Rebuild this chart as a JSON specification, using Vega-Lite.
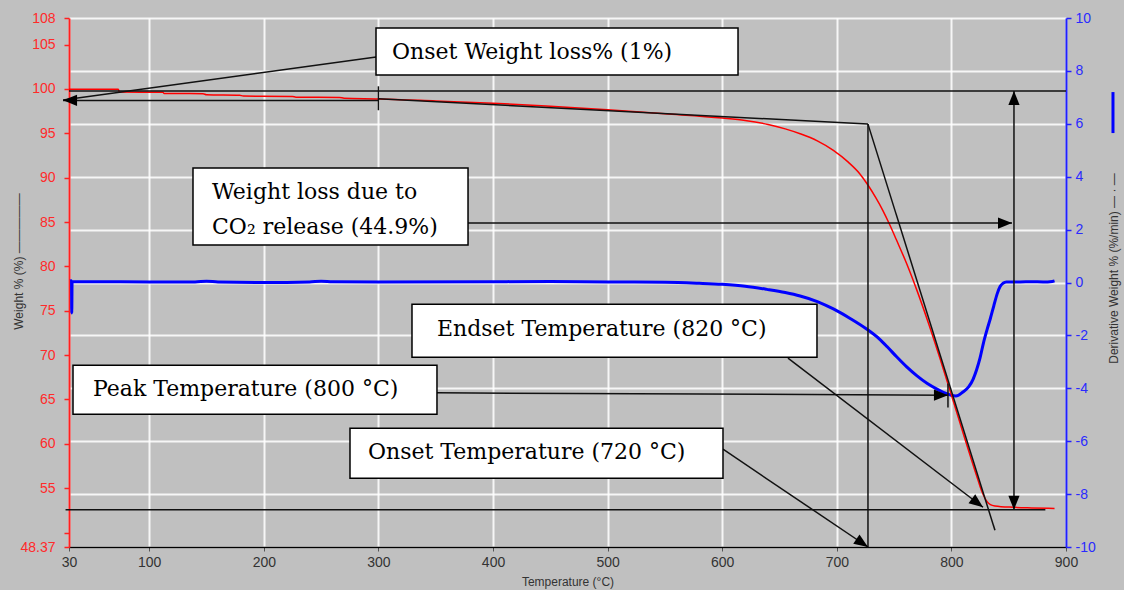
{
  "$schema": "https://vega.github.io/schema/vega-lite/v6.json",
  "width": 997,
  "height": 529,
  "autosize": "none",
  "padding": {"left": 69, "top": 18, "right": 58, "bottom": 43},
  "background": "#c0c0c0",
  "config": {
    "view": {"stroke": null},
    "axis": {"grid": false, "labelFont": "Liberation Sans", "titleFont": "Liberation Sans", "labelFontSize": 14, "titleFontSize": 12, "titleFontWeight": "normal"}
  },
  "datasets": {
    "tga": [
      {"T": 30, "W": 99.96}, {"T": 73, "W": 99.96}, {"T": 74, "W": 99.65}, {"T": 112, "W": 99.62}, {"T": 113, "W": 99.5},
      {"T": 147, "W": 99.46}, {"T": 150, "W": 99.35}, {"T": 179, "W": 99.3}, {"T": 182, "W": 99.2}, {"T": 225, "W": 99.15},
      {"T": 228, "W": 99.08}, {"T": 266, "W": 99.05}, {"T": 270, "W": 98.95}, {"T": 300, "W": 98.88}, {"T": 350, "W": 98.65},
      {"T": 400, "W": 98.4}, {"T": 450, "W": 98.05}, {"T": 500, "W": 97.65}, {"T": 550, "W": 97.2}, {"T": 600, "W": 96.72},
      {"T": 620, "W": 96.45}, {"T": 640, "W": 96.0}, {"T": 655, "W": 95.5}, {"T": 668, "W": 94.95}, {"T": 683, "W": 94.15},
      {"T": 697, "W": 93.08}, {"T": 710, "W": 91.75}, {"T": 720, "W": 90.45}, {"T": 727, "W": 89.2}, {"T": 734, "W": 87.75},
      {"T": 740, "W": 86.35}, {"T": 746, "W": 84.75}, {"T": 752, "W": 83.0}, {"T": 761, "W": 80.3}, {"T": 770, "W": 77.27},
      {"T": 780, "W": 73.6}, {"T": 790, "W": 69.65}, {"T": 800, "W": 65.5}, {"T": 810, "W": 61.3}, {"T": 818, "W": 58.0},
      {"T": 822, "W": 56.4}, {"T": 825, "W": 55.2}, {"T": 828, "W": 54.2}, {"T": 831, "W": 53.5}, {"T": 834, "W": 53.15},
      {"T": 838, "W": 53.0}, {"T": 854, "W": 52.85}, {"T": 870, "W": 52.78}, {"T": 890, "W": 52.72}
    ],
    "dtg": [
      {"i": 1, "T": 31, "D": 0.06}, {"i": 2, "T": 32.2, "D": 0.07}, {"i": 3, "T": 32.4, "D": -1.15}, {"i": 4, "T": 32.7, "D": 0.03},
      {"i": 5, "T": 50, "D": 0.03}, {"i": 6, "T": 100, "D": 0.02}, {"i": 7, "T": 140, "D": 0.02}, {"i": 8, "T": 150, "D": 0.05},
      {"i": 9, "T": 160, "D": 0.02}, {"i": 10, "T": 200, "D": 0.0}, {"i": 11, "T": 240, "D": 0.02}, {"i": 12, "T": 250, "D": 0.05},
      {"i": 13, "T": 260, "D": 0.03}, {"i": 14, "T": 300, "D": 0.02}, {"i": 15, "T": 400, "D": 0.03}, {"i": 16, "T": 450, "D": 0.04},
      {"i": 17, "T": 500, "D": 0.02}, {"i": 18, "T": 550, "D": 0.01}, {"i": 19, "T": 580, "D": -0.03}, {"i": 20, "T": 600, "D": -0.07},
      {"i": 21, "T": 620, "D": -0.14}, {"i": 22, "T": 639, "D": -0.26}, {"i": 23, "T": 655, "D": -0.38}, {"i": 24, "T": 668, "D": -0.51},
      {"i": 25, "T": 683, "D": -0.72}, {"i": 26, "T": 697, "D": -1.0}, {"i": 27, "T": 712, "D": -1.37}, {"i": 28, "T": 726, "D": -1.76},
      {"i": 29, "T": 737, "D": -2.13}, {"i": 30, "T": 744, "D": -2.43}, {"i": 31, "T": 752, "D": -2.8}, {"i": 32, "T": 761, "D": -3.19},
      {"i": 33, "T": 770, "D": -3.53}, {"i": 34, "T": 779, "D": -3.82}, {"i": 35, "T": 787, "D": -4.02}, {"i": 36, "T": 793, "D": -4.15},
      {"i": 37, "T": 799, "D": -4.25}, {"i": 38, "T": 804, "D": -4.29}, {"i": 39, "T": 810, "D": -4.14}, {"i": 40, "T": 815, "D": -3.95},
      {"i": 41, "T": 819, "D": -3.65}, {"i": 42, "T": 822, "D": -3.3}, {"i": 43, "T": 825, "D": -2.85}, {"i": 44, "T": 828, "D": -2.28},
      {"i": 45, "T": 831, "D": -1.8}, {"i": 46, "T": 834, "D": -1.36}, {"i": 47, "T": 837, "D": -0.88}, {"i": 48, "T": 840, "D": -0.42},
      {"i": 49, "T": 842.5, "D": -0.15}, {"i": 50, "T": 845, "D": -0.03}, {"i": 51, "T": 848, "D": 0.02}, {"i": 52, "T": 860, "D": 0.02},
      {"i": 53, "T": 870, "D": 0.03}, {"i": 54, "T": 880, "D": 0.02}, {"i": 55, "T": 888, "D": 0.04}, {"i": 56, "T": 890, "D": 0.06}
    ],
    "lines": [
      {"T": 30, "W": 99.77, "T2": 900, "W2": 99.77},
      {"T": 27, "W": 52.58, "T2": 882, "W2": 52.58},
      {"T": 300, "W": 98.7, "T2": 24.8, "W2": 98.7},
      {"T": 298, "W": 103.6, "T2": 24.8, "W2": 98.75},
      {"T": 300, "W": 100.3, "T2": 300, "W2": 97.6},
      {"T": 300, "W": 98.9, "T2": 727.2, "W2": 96.04},
      {"T": 727.2, "W": 96.04, "T2": 838, "W2": 50.25},
      {"T": 727.2, "W": 96.04, "T2": 727.2, "W2": 48.37},
      {"T": 854.6, "W": 99.77, "T2": 854.6, "W2": 52.58},
      {"T": 378.2, "W": 84.88, "T2": 852.9, "W2": 84.88},
      {"T": 351.1, "W": 65.75, "T2": 797, "W2": 65.48},
      {"T": 797, "W": 66.8, "T2": 797, "W2": 64.1},
      {"T": 657.4, "W": 69.65, "T2": 827.6, "W2": 52.85},
      {"T": 600.7, "W": 59.39, "T2": 727.2, "W2": 48.37}
    ],
    "heads": [
      {"T": 24.8, "W": 98.72, "dir": "left"},
      {"T": 854.6, "W": 99.77, "dir": "up"},
      {"T": 854.6, "W": 52.58, "dir": "down"},
      {"T": 852.9, "W": 84.88, "dir": "right"},
      {"T": 797, "W": 65.48, "dir": "right"},
      {"T": 827.6, "W": 52.85, "dir": "endset"},
      {"T": 727.2, "W": 48.37, "dir": "onset"}
    ],
    "boxes": [
      {"T": 297.9, "T2": 613.8, "W": 106.87, "W2": 101.57},
      {"T": 138.2, "T2": 378.2, "W": 91.08, "W2": 82.4},
      {"T": 329.3, "T2": 682.7, "W": 75.74, "W2": 69.76},
      {"T": 33.5, "T2": 351.1, "W": 68.86, "W2": 63.33},
      {"T": 275.2, "T2": 600.7, "W": 61.76, "W2": 56.12}
    ],
    "labels": [
      {"T": 311.9, "W": 104.17, "label": "Onset Weight loss% (1%)"},
      {"T": 154.8, "W": 88.37, "label": "Weight loss due to"},
      {"T": 154.8, "W": 84.43, "label": "CO₂ release (44.9%)"},
      {"T": 351.1, "W": 72.92, "label": "Endset Temperature (820 °C)"},
      {"T": 50.9, "W": 66.15, "label": "Peak Temperature (800 °C)"},
      {"T": 290.9, "W": 59.05, "label": "Onset Temperature (720 °C)"}
    ],
    "glyph": [
      {"T": 941, "W": 99.65, "T2": 941, "W2": 95.03}
    ]
  },
  "resolve": {"scale": {"y": "independent"}},
  "layer": [
    {
      "data": {"name": "dtg"},
      "mark": {"type": "line", "color": "#0000ff", "strokeWidth": 3, "interpolate": "monotone"},
      "encoding": {
        "x": {"field": "T", "type": "quantitative", "scale": {"domain": [30, 900], "nice": false, "zero": false}},
        "y": {
          "field": "D", "type": "quantitative",
          "scale": {"domain": [-10, 10], "nice": false, "zero": false},
          "axis": {
            "orient": "right", "values": [-10, -8, -6, -4, -2, 0, 2, 4, 6, 8, 10],
            "labelExpr": "'' + datum.value",
            "grid": true, "gridColor": "#ffffff", "gridWidth": 2, "gridOpacity": 0.85,
            "domainColor": "#2020ff", "domainWidth": 2, "tickColor": "#2020ff", "tickSize": 5, "tickWidth": 1.5,
            "labelColor": "#2a2aff", "labelPadding": 4,
            "title": "Derivative Weight % (%/min)   — · —", "titleColor": "#333333", "titleAngle": 270,
            "titleBaseline": "middle", "titleX": 47, "titleY": 250
          }
        },
        "order": {"field": "i", "type": "quantitative"}
      }
    },
    {
      "encoding": {
        "x": {
          "field": "T", "type": "quantitative", "scale": {"domain": [30, 900], "nice": false, "zero": false},
          "axis": {
            "values": [30, 100, 200, 300, 400, 500, 600, 700, 800, 900],
            "grid": true, "gridColor": "#ffffff", "gridWidth": 2, "gridOpacity": 0.85,
            "domainColor": "#000000", "domainWidth": 1.5, "tickColor": "#555555", "tickSize": 4,
            "labelColor": "#333333", "labelPadding": 4, "labelFlush": false,
            "title": "Temperature (°C)", "titleColor": "#333333", "titlePadding": 7
          }
        },
        "y": {
          "field": "W", "type": "quantitative", "scale": {"domain": [48.37, 108], "nice": false, "zero": false},
          "axis": {
            "orient": "left", "values": [48.37, 50, 55, 60, 65, 70, 75, 80, 85, 90, 95, 100, 105, 108],
            "labelExpr": "datum.value == 50 ? '' : '' + datum.value",
            "domainColor": "#ff2020", "domainWidth": 2, "tickColor": "#ff2020", "tickSize": 5, "tickWidth": 1.5,
            "labelColor": "#ff2a2a", "labelPadding": 9,
            "title": "Weight % (%)  —————", "titleColor": "#333333", "titleAngle": 270,
            "titleBaseline": "middle", "titleX": -51, "titleY": 243
          }
        }
      },
      "layer": [
        {
          "data": {"name": "tga"},
          "mark": {"type": "line", "color": "#ff0000", "strokeWidth": 1.5, "interpolate": "monotone"}
        },
        {
          "data": {"name": "lines"},
          "mark": {"type": "rule", "color": "#111111", "strokeWidth": 1.5},
          "encoding": {
            "x2": {"field": "T2"},
            "y2": {"field": "W2"}
          }
        },
        {
          "data": {"name": "heads"},
          "mark": {"type": "point", "shape": "M0,0L-0.8,2L0.8,2Z", "filled": true, "color": "#000000", "opacity": 1, "size": 196},
          "encoding": {
            "angle": {"field": "dir", "type": "nominal", "legend": null, "scale": {"type": "ordinal", "domain": ["up", "right", "down", "left", "endset", "onset"], "range": [0, 90, 180, 270, 127, 124]}}
          }
        },
        {
          "data": {"name": "boxes"},
          "mark": {"type": "rect", "fill": "#ffffff", "stroke": "#000000", "strokeWidth": 1.5},
          "encoding": {
            "x2": {"field": "T2"},
            "y2": {"field": "W2"}
          }
        },
        {
          "data": {"name": "labels"},
          "mark": {"type": "text", "font": "DejaVu Serif", "fontSize": 22, "align": "left", "baseline": "middle", "color": "#000000"},
          "encoding": {
            "text": {"field": "label", "type": "nominal"}
          }
        },
        {
          "data": {"name": "glyph"},
          "mark": {"type": "rule", "color": "#0000ff", "strokeWidth": 3},
          "encoding": {
            "x2": {"field": "T2"},
            "y2": {"field": "W2"}
          }
        }
      ]
    }
  ]
}
